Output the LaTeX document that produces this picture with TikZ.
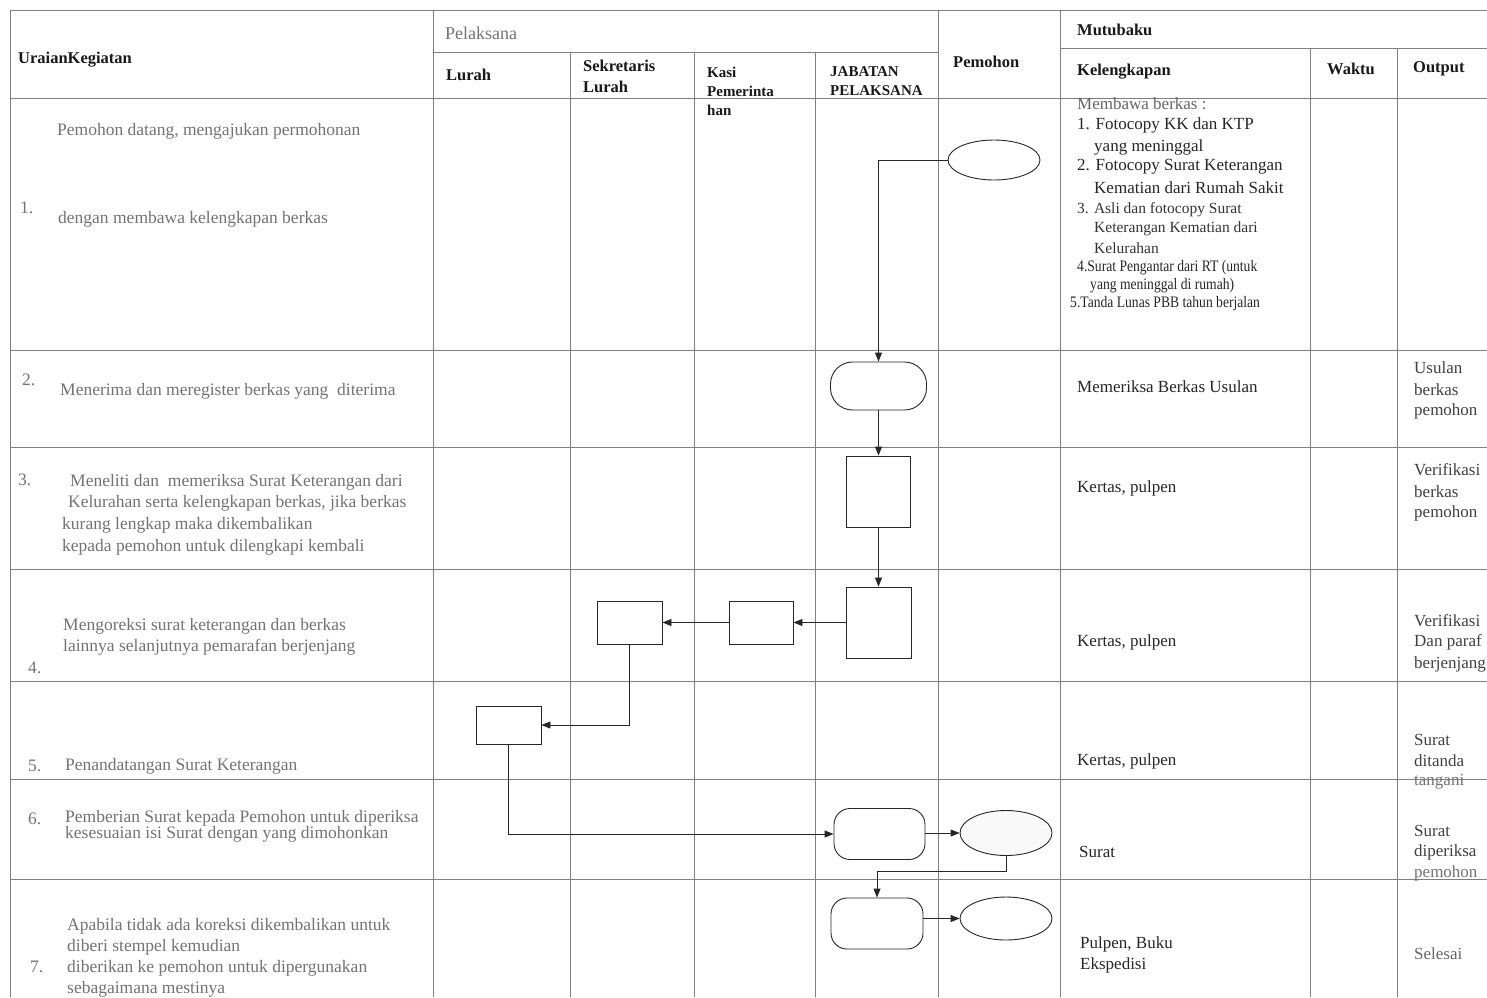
\documentclass[tikz,border=0pt]{standalone}
\usepackage{fontspec}
\setmainfont{Liberation Serif}
\newfontfamily\condserif[FakeStretch=0.85]{Liberation Serif}
\usetikzlibrary{shapes.geometric,arrows.meta}
\begin{document}
\begin{tikzpicture}[x=1pt,y=-1pt,
  grid/.style={draw=black!50, line width=0.8pt},
  flow/.style={draw=black!85, line width=0.9pt},
  arr/.style={flow, -{Triangle[length=9pt,width=7pt]}},
  box/.style={flow, rectangle, inner sep=0pt, fill=white},
  term/.style={flow, rectangle, rounded corners=16pt, inner sep=0pt, fill=white},
  oval/.style={flow, ellipse, inner sep=0pt, minimum width=92pt, minimum height=40pt, fill=white},
  hd/.style={font=\fontsize{16.5}{20}\selectfont\bfseries, text=black!90, inner sep=0pt, anchor=west},
  hs/.style={font=\fontsize{15}{18}\selectfont\bfseries, text=black!90, inner sep=0pt, anchor=west},
  hp/.style={font=\fontsize{18}{21}\selectfont, text=black!55, inner sep=0pt, anchor=west},
  ca/.style={font=\fontsize{17.5}{21}\selectfont, text=black!55, inner sep=0pt, anchor=west},
  cb/.style={font=\fontsize{17}{21}\selectfont, text=black!85, inner sep=0pt, anchor=west},
  cc/.style={font=\fontsize{15.5}{19}\selectfont, text=black!80, inner sep=0pt, anchor=west},
  cd/.style={font=\condserif\fontsize{16}{18}\selectfont, text=black!85, inner sep=0pt, anchor=west},
  co/.style={font=\fontsize{17}{21}\selectfont, text=black!75, inner sep=0pt, anchor=west}
]
\useasboundingbox (0,0) rectangle (1487,997);
\fill[white] (0,0) rectangle (1487,997);

% ---------- table grid ----------
\draw[grid] (10,10) -- (1487,10);
\draw[grid] (433,52) -- (938,52);
\draw[grid] (1060,48) -- (1487,48);
\draw[grid] (10,98) -- (1487,98);
\foreach \yy in {350,447,569,681,779,879}
  \draw[grid] (10,\yy) -- (1487,\yy);
\draw[grid] (10,10) -- (10,997);
\draw[grid] (433,10) -- (433,997);
\draw[grid] (938,10) -- (938,997);
\draw[grid] (1060,10) -- (1060,997);
\foreach \xx in {570,694,815}
  \draw[grid] (\xx,52) -- (\xx,997);
\foreach \xx in {1310,1397}
  \draw[grid] (\xx,48) -- (\xx,997);

% ---------- headers ----------
\node[hd] (hU) at (18,60) {UraianKegiatan};
\node[hp] (hP) at (445,33) {Pelaksana};
\node[hd] (hL) at (446,75) {Lurah};
\node[hd] (hS1) at (583,66) {Sekretaris};
\node[hd] (hS2) at (583,87) {Lurah};
\node[hs] (hK1) at (707,72) {Kasi};
\node[hs] (hK2) at (707,91) {Pemerinta};
\node[hs] (hK3) at (707,110) {han};
\node[hs] (hJ1) at (830,72) {JABATAN};
\node[hs] (hJ2) at (830,91) {PELAKSANA};
\node[hd] (hPm) at (953,62) {Pemohon};
\node[hd] (hM) at (1077,30) {Mutubaku};
\node[hd] (hKl) at (1077,72) {Kelengkapan};
\node[hd] (hW) at (1327,69) {Waktu};
\node[hd] (hO) at (1413,69) {Output};

% ---------- column 1: uraian kegiatan ----------
\node[ca] (t1a) at (57,131) {Pemohon datang, mengajukan permohonan};
\node[ca] (n1) at (20,208) {1.};
\node[ca] (t1b) at (58,219) {dengan membawa kelengkapan berkas};
\node[ca] (n2) at (22,380) {2.};
\node[ca] (t2) at (60,391) {Menerima dan meregister berkas yang\ \ diterima};
\node[ca] (n3) at (18,480) {3.};
\node[ca] (t3a) at (70,482) {Meneliti dan\ \ memeriksa Surat Keterangan dari};
\node[ca] (t3b) at (68,503) {Kelurahan serta kelengkapan berkas, jika berkas};
\node[ca] (t3c) at (62,525) {kurang lengkap maka dikembalikan};
\node[ca] (t3d) at (62,547) {kepada pemohon untuk dilengkapi kembali};
\node[ca] (t4a) at (63,626) {Mengoreksi surat keterangan dan berkas};
\node[ca] (t4b) at (63,647) {lainnya selanjutnya pemarafan berjenjang};
\node[ca] (n4) at (28,668) {4.};
\node[ca] (n5) at (28,766) {5.};
\node[ca] (t5) at (65,766) {Penandatangan Surat Keterangan};
\node[ca] (n6) at (28,819) {6.};
\node[ca] (t6a) at (65,818) {Pemberian Surat kepada Pemohon untuk diperiksa};
\node[ca] (t6b) at (65,834) {kesesuaian isi Surat dengan yang dimohonkan};
\node[ca] (t7a) at (67,926) {Apabila tidak ada koreksi dikembalikan untuk};
\node[ca] (t7b) at (67,947) {diberi stempel kemudian};
\node[ca] (n7) at (30,967) {7.};
\node[ca] (t7c) at (67,968) {diberikan ke pemohon untuk dipergunakan};
\node[ca] (t7d) at (67,989) {sebagaimana mestinya};

% ---------- kelengkapan ----------
\node[cb, text=black!60] (k1a) at (1077,104) {Membawa berkas :};
\node[cb] (k1b) at (1077,125) {1. Fotocopy KK dan KTP};
\node[cb] (k1c) at (1094,147) {yang meninggal};
\node[cb] (k1d) at (1077,167) {2. Fotocopy Surat Keterangan};
\node[cb] (k1e) at (1094,188) {Kematian dari Rumah Sakit};
\node[cc] (k1f) at (1077,210) {3. Asli dan fotocopy Surat};
\node[cc] (k1g) at (1094,229) {Keterangan Kematian dari};
\node[cc] (k1h) at (1094,248) {Kelurahan};
\node[cd] (k1i) at (1077,268) {4.Surat Pengantar dari RT (untuk};
\node[cd] (k1j) at (1090,286) {yang meninggal di rumah)};
\node[cd] (k1k) at (1070,304) {5.Tanda Lunas PBB tahun berjalan};
\node[cb] (k2) at (1077,387) {Memeriksa Berkas Usulan};
\node[cb] (k3) at (1077,488) {Kertas, pulpen};
\node[cb] (k4t) at (1077,642) {Kertas, pulpen};
\node[cb] (k5) at (1077,761) {Kertas, pulpen};
\node[cb] (k6) at (1079,852) {Surat};
\node[cb] (k7a) at (1080,944) {Pulpen, Buku};
\node[cb] (k7b) at (1080,965) {Ekspedisi};

% ---------- output ----------
\node[co] (o2a) at (1414,368) {Usulan};
\node[co] (o2b) at (1414,390) {berkas};
\node[co] (o2c) at (1414,411) {pemohon};
\node[co] (o3a) at (1414,470) {Verifikasi};
\node[co] (o3b) at (1414,492) {berkas};
\node[co] (o3c) at (1414,513) {pemohon};
\node[co] (o4a) at (1414,621) {Verifikasi};
\node[co] (o4b) at (1414,642) {Dan paraf};
\node[co] (o4c) at (1414,664) {berjenjang};
\node[co] (o5a) at (1414,740) {Surat};
\node[co] (o5b) at (1414,761) {ditanda};
\node[co, text=black!55] (o5c) at (1414,782) {tangani};
\node[co] (o6a) at (1414,831) {Surat};
\node[co] (o6b) at (1414,852) {diperiksa};
\node[co, text=black!55] (o6c) at (1414,873) {pemohon};
\node[co, text=black!60] (o7) at (1414,954) {Selesai};

% ---------- flow shapes ----------
\node[oval] (e1) at (994,160) {};
\node[term, minimum width=96pt, minimum height=48pt, rounded corners=22pt] (r2) at (878.5,386) {};
\node[box, minimum width=64pt, minimum height=71pt] (r3) at (878.5,491.5) {};
\node[box, minimum width=65pt, minimum height=71pt] (r4) at (878.5,622.5) {};
\node[box, minimum width=64pt, minimum height=43pt] (k4) at (761,622.5) {};
\node[box, minimum width=65pt, minimum height=43pt] (s4) at (629.5,622.5) {};
\node[box, minimum width=65pt, minimum height=38pt] (l5) at (508.5,725) {};
\node[term, minimum width=91pt, minimum height=51pt] (r6) at (879.5,834) {};
\node[oval, minimum height=45pt, fill=gray!5] (e6) at (1006,833) {};
\node[term, minimum width=92pt, minimum height=51pt] (r7) at (877,923.5) {};
\node[oval, minimum height=43pt] (e7) at (1006,918.5) {};

% ---------- connectors ----------
\draw[arr] (e1.west) -| (r2.north);
\draw[arr] (r2.south) -- (r3.north);
\draw[arr] (r3.south) -- (r4.north);
\draw[arr] (r4.west) -- (k4.east);
\draw[arr] (k4.west) -- (s4.east);
\draw[arr] (s4.south) |- (l5.east);
\draw[arr] (l5.south) |- (r6.west);
\draw[arr] (r6.east |- e6.west) -- (e6.west);
\draw[arr] (e6.south) -- ++(0,15) -| (r7.north);
\draw[arr] (r7.east |- e7.west) -- (e7.west);
\end{tikzpicture}
\end{document}
